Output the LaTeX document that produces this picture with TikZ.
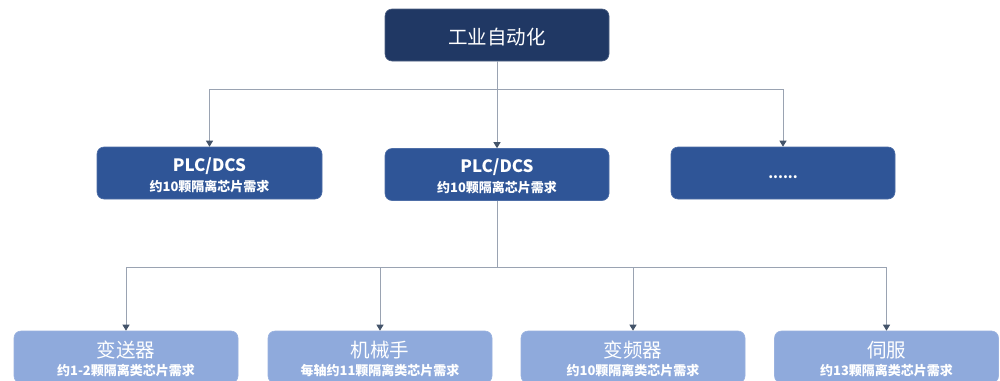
\documentclass[tikz,border=0pt]{standalone}
\usepackage{fontspec}
\setmainfont{Noto Sans CJK SC}
\usetikzlibrary{arrows.meta}
\definecolor{topc}{HTML}{203864}
\definecolor{midc}{HTML}{2F5597}
\definecolor{botc}{HTML}{8FAADC}
\definecolor{linec}{HTML}{9AA3B2}
\definecolor{tipc}{HTML}{44546A}
\tikzset{
  box/.style={rounded corners=7pt, minimum width=224pt, minimum height=52pt, inner sep=0pt, text=white},
  topbox/.style={box, fill=topc, draw=topc!80!white, line width=0.6pt},
  midbox/.style={box, fill=midc, draw=midc!85!white, line width=0.6pt},
  botbox/.style={box, fill=botc, draw=botc!90!white, line width=0.6pt},
  ttl/.style={text=white, inner sep=0pt, font=\fontsize{19.5}{22}\selectfont},
  mttl/.style={text=white, inner sep=0pt, font=\fontsize{17}{19}\selectfont\bfseries},
  sub/.style={text=white, inner sep=0pt, font=\fontsize{13}{15}\selectfont\bfseries},
  conn/.style={draw=linec, line width=1pt},
  arr/.style={conn, -{Triangle[width=7pt,length=6pt,color=tipc]}}
}
\begin{document}
\begin{tikzpicture}[x=1pt,y=-1pt]
\clip (0,0) rectangle (1000,380);
\fill[white] (0,0) rectangle (1000,380);
% top
\node[topbox] (top) at (497,35) {};
\node[ttl] (topt) at (497,37) {工业自动化};
% middle
\node[midbox, minimum width=225pt] (m1) at (209.5,173) {};
\node[mttl] (m1a) at (209.5,166) {PLC/DCS};
\node[sub] (m1b) at (209.5,187) {约10颗隔离芯片需求};
\node[midbox] (m2) at (497,174.5) {};
\node[mttl] (m2a) at (497,167) {PLC/DCS};
\node[sub] (m2b) at (497,188) {约10颗隔离芯片需求};
\node[midbox] (m3) at (783,173) {};
\node[ttl, font=\fontsize{14}{16}\selectfont\bfseries] (m3a) at (783,177) {......};
% bottom
\node[botbox] (b1) at (126,357) {};
\node[ttl] (b1a) at (126,350) {变送器};
\node[sub] (b1b) at (126,371) {约1-2颗隔离类芯片需求};
\node[botbox] (b2) at (380,357) {};
\node[ttl] (b2a) at (380,350) {机械手};
\node[sub] (b2b) at (380,371) {每轴约11颗隔离类芯片需求};
\node[botbox] (b3) at (633,357) {};
\node[ttl] (b3a) at (633,350) {变频器};
\node[sub] (b3b) at (633,371) {约10颗隔离类芯片需求};
\node[botbox] (b4) at (886.5,357) {};
\node[ttl] (b4a) at (886.5,350) {伺服};
\node[sub] (b4b) at (886.5,371) {约13颗隔离类芯片需求};
% connectors level 1
\coordinate (bus1) at (0,89);
\draw[conn] (m1.north |- bus1) -- (m3.north |- bus1);
\draw[arr] (top.south) -- (top.south |- m2.north);
\draw[arr] (m1.north |- bus1) -- (m1.north);
\draw[arr] (m3.north |- bus1) -- (m3.north);
% connectors level 2
\coordinate (bus2) at (0,267);
\draw[conn] (m2.south) -- (m2.south |- bus2);
\draw[conn] (b1.north |- bus2) -- (b4.north |- bus2);
\draw[arr] (b1.north |- bus2) -- (b1.north);
\draw[arr] (b2.north |- bus2) -- (b2.north);
\draw[arr] (b3.north |- bus2) -- (b3.north);
\draw[arr] (b4.north |- bus2) -- (b4.north);
\end{tikzpicture}
\end{document}
